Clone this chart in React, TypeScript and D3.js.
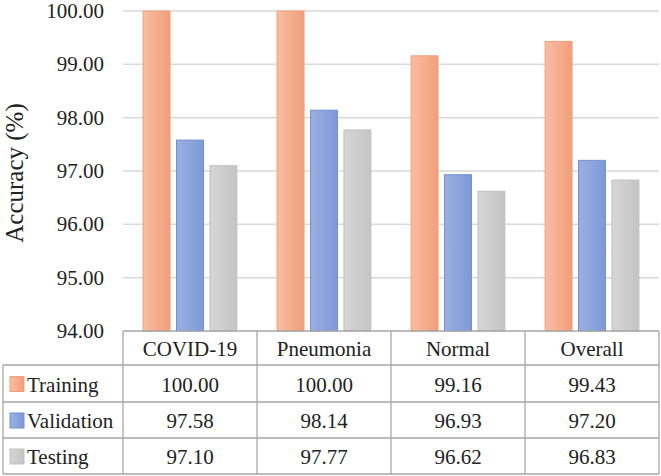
import React from "react";
import * as d3 from "d3";

const categories = ["COVID-19", "Pneumonia", "Normal", "Overall"];
const seriesNames = ["Training", "Validation", "Testing"];
const training = [100.0, 100.0, 99.16, 99.43];
const validation = [97.58, 98.14, 96.93, 97.2];
const testing = [97.1, 97.77, 96.62, 96.83];
const yTicks = [94, 95, 96, 97, 98, 99, 100];

const seriesValues = [training, validation, testing];
const gradients = [
  { id: "gTrain", from: "#F8BDA2", to: "#F29E7B", stroke: "#F0A07C" },
  { id: "gVal", from: "#9AB0E2", to: "#7F98D8", stroke: "#7390D3" },
  { id: "gTest", from: "#D6D6D6", to: "#C4C4C4", stroke: "#C0C0C0" },
];

const W = 661;
const H = 476;
const plotLeft = 123;
const plotRight = 659;
const plotTop = 11;
const plotBottom = 331;
const rowYs = [331, 365, 402, 438, 474];
const tableLeft = 3;
const FONT = '"Liberation Serif", "DejaVu Serif", "Times New Roman", Times, serif';
const txt = { fontFamily: FONT };

export default function App() {
  const x = d3.scaleBand<string>().domain(categories).range([plotLeft, plotRight]).padding(0);
  const bw = x.bandwidth();
  const xi = d3
    .scaleBand<string>()
    .domain(seriesNames)
    .range([bw * 0.15, bw * 0.85])
    .paddingInner(0.194)
    .paddingOuter(0);
  const y = d3.scaleLinear().domain([94, 100]).range([plotBottom, plotTop]);
  const fmt = d3.format(".2f");
  const gridColor = "#D9D9D9";
  const tableColor = "#A6A6A6";

  return (
    <svg width={W} height={H} style={{ position: "absolute", left: 0, top: 0, background: "#fff", fontFamily: FONT }}>
      <defs>
        {gradients.map((g) => (
          <linearGradient key={g.id} id={g.id} x1="0" y1="0" x2="1" y2="0">
            <stop offset="0%" stopColor={g.from} />
            <stop offset="100%" stopColor={g.to} />
          </linearGradient>
        ))}
      </defs>
      <rect x={0} y={0} width={W} height={H} fill="#fff" />

      {yTicks.slice(1).map((t) => (
        <line key={t} x1={plotLeft} x2={plotRight} y1={y(t)} y2={y(t)} stroke={gridColor} strokeWidth={1.5} />
      ))}

      {yTicks.map((t) => (
        <text key={t} x={104} y={y(t)} textAnchor="end" dominantBaseline="central" fontSize={21} fill="#222" style={txt}>
          {fmt(t)}
        </text>
      ))}

      <text
        transform={`translate(14, ${(plotTop + plotBottom) / 2 + 2}) rotate(-90)`}
        textAnchor="middle"
        dominantBaseline="central"
        fontSize={25}
        fill="#222"
        style={txt}
      >
        Accuracy (%)
      </text>

      {seriesNames.map((s, si) =>
        categories.map((c, ci) => {
          const v = seriesValues[si][ci];
          const bx = (x(c) as number) + (xi(s) as number);
          return (
            <rect
              key={s + c}
              x={bx}
              y={y(v)}
              width={xi.bandwidth()}
              height={y(94) - y(v)}
              fill={`url(#${gradients[si].id})`}
              stroke={gradients[si].stroke}
              strokeWidth={1}
            />
          );
        })
      )}

      <g stroke={tableColor} strokeWidth={1.3} fill="none">
        <line x1={plotLeft} x2={plotRight} y1={rowYs[0]} y2={rowYs[0]} />
        {rowYs.slice(1).map((ry) => (
          <line key={ry} x1={tableLeft} x2={plotRight} y1={ry} y2={ry} />
        ))}
        <line x1={tableLeft} x2={tableLeft} y1={rowYs[1]} y2={rowYs[4]} />
        {categories.map((c) => (
          <line key={c} x1={x(c)} x2={x(c)} y1={rowYs[0]} y2={rowYs[4]} />
        ))}
        <line x1={plotRight} x2={plotRight} y1={rowYs[0]} y2={rowYs[4]} />
      </g>

      {categories.map((c) => (
        <text
          key={c}
          x={(x(c) as number) + bw / 2}
          y={(rowYs[0] + rowYs[1]) / 2 + 1}
          textAnchor="middle"
          dominantBaseline="central"
          fontSize={21}
          fill="#222"
          style={txt}
        >
          {c}
        </text>
      ))}

      {seriesNames.map((s, si) => {
        const cy = (rowYs[si + 1] + rowYs[si + 2]) / 2 + 1;
        return (
          <g key={s}>
            <rect
              x={10}
              y={cy - 8}
              width={14}
              height={15}
              fill={`url(#${gradients[si].id})`}
              stroke={gradients[si].stroke}
              strokeWidth={1}
            />
            <text x={27} y={cy} dominantBaseline="central" fontSize={21} fill="#222" style={txt}>
              {s}
            </text>
            {categories.map((c, ci) => (
              <text
                key={c}
                x={(x(c) as number) + bw / 2}
                y={cy}
                textAnchor="middle"
                dominantBaseline="central"
                fontSize={21}
                fill="#222"
                style={txt}
              >
                {fmt(seriesValues[si][ci])}
              </text>
            ))}
          </g>
        );
      })}
    </svg>
  );
}
